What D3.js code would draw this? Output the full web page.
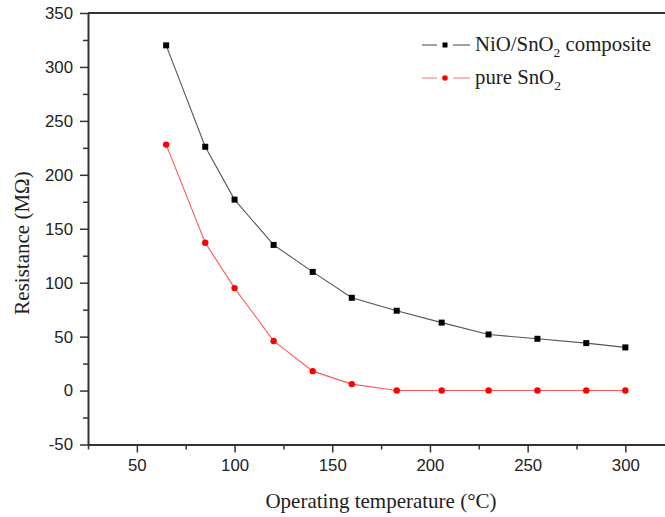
<!DOCTYPE html>
<html>
<head>
<meta charset="utf-8">
<script src="https://cdn.jsdelivr.net/npm/d3@7"></script>
<style>
  body { margin: 0; background: #fff; }
  svg { display: block; }
  .tick text { font-family: "Liberation Sans", Arial, sans-serif; font-size: 16.8px; fill: #222; }
  .title { font-family: "Liberation Serif", "Times New Roman", serif; font-size: 21px; fill: #222; }
  .legend-text { font-family: "Liberation Serif", "Times New Roman", serif; font-size: 20.8px; fill: #222; }
</style>
</head>
<body>
<div id="chart"></div>
<script>
// data
const temperatures = [65, 85, 100, 120, 140, 160, 183, 206, 230, 255, 280, 300];
const nioComposite = [320, 226, 177, 135, 110, 86, 74, 63, 52, 48, 44, 40];
const pureSnO2 = [228, 137, 95, 46, 18, 6, 0, 0, 0, 0, 0, 0];
const xTicks = [50, 100, 150, 200, 250, 300];
const yTicks = [-50, 0, 50, 100, 150, 200, 250, 300, 350];

const width = 665, height = 517;
const plotLeft = 88, plotTop = 13, plotBottom = 444.5;

const svg = d3.select("#chart").append("svg")
  .attr("width", width)
  .attr("height", height);

// plot runs past the right edge of the picture (the figure is cropped)
const x = d3.scaleLinear().domain([25, 325]).range([plotLeft, plotLeft + 300 * 1.954]);
const y = d3.scaleLinear().domain([-50, 350]).range([plotBottom, plotTop]);

const axisColor = "#333";
const fmt = d => String(d); // plain hyphen for negatives, like the original

// minor ticks
svg.append("g")
  .attr("transform", `translate(0,${plotBottom})`)
  .call(d3.axisBottom(x).tickValues(d3.range(25, 326, 25).filter(v => v % 50 !== 0)).tickSize(5).tickFormat(""))
  .call(g => g.select(".domain").remove())
  .call(g => g.selectAll("line").attr("stroke", axisColor).attr("stroke-width", 1.5));
svg.append("g")
  .attr("transform", `translate(${plotLeft},0)`)
  .call(d3.axisLeft(y).tickValues(d3.range(-25, 350, 50)).tickSize(5).tickFormat(""))
  .call(g => g.select(".domain").remove())
  .call(g => g.selectAll("line").attr("stroke", axisColor).attr("stroke-width", 1.5));

// major axes
svg.append("g")
  .attr("transform", `translate(0,${plotBottom})`)
  .call(d3.axisBottom(x).tickValues(xTicks).tickFormat(fmt).tickSize(8).tickSizeOuter(0).tickPadding(7))
  .call(g => g.select(".domain").attr("stroke", axisColor).attr("stroke-width", 2))
  .call(g => g.selectAll("line").attr("stroke", axisColor).attr("stroke-width", 1.5));

svg.append("g")
  .attr("transform", `translate(${plotLeft},0)`)
  .call(d3.axisLeft(y).tickValues(yTicks).tickFormat(fmt).tickSize(8).tickSizeOuter(0).tickPadding(7))
  .call(g => g.select(".domain").attr("stroke", axisColor).attr("stroke-width", 2))
  .call(g => g.selectAll("line").attr("stroke", axisColor).attr("stroke-width", 1.5));

// top frame
svg.append("line")
  .attr("x1", plotLeft).attr("x2", width)
  .attr("y1", plotTop).attr("y2", plotTop)
  .attr("stroke", axisColor).attr("stroke-width", 2);

// lines
const line = d3.line()
  .x(d => x(d[0]))
  .y(d => y(d[1]));

const series = [
  { name: "nio", values: nioComposite, line: "#555", fill: "#000", marker: "square" },
  { name: "pure", values: pureSnO2, line: "#ff5a5a", fill: "#ff0000", marker: "circle" }
];

series.forEach(s => {
  const pts = temperatures.map((t, i) => [t, s.values[i]]);
  svg.append("path")
    .datum(pts)
    .attr("fill", "none")
    .attr("stroke", s.line)
    .attr("stroke-width", 1.1)
    .attr("d", line);
  if (s.marker === "square") {
    svg.selectAll(null).data(pts).join("rect")
      .attr("x", d => x(d[0]) - 3)
      .attr("y", d => y(d[1]) - 3)
      .attr("width", 6).attr("height", 6)
      .attr("fill", s.fill);
  } else {
    svg.selectAll(null).data(pts).join("circle")
      .attr("cx", d => x(d[0]))
      .attr("cy", d => y(d[1]))
      .attr("r", 3.2)
      .attr("fill", s.fill);
  }
});

// axis titles
svg.append("text")
  .attr("class", "title")
  .attr("x", 381).attr("y", 508)
  .attr("text-anchor", "middle")
  .text("Operating temperature (°C)");

svg.append("text")
  .attr("class", "title")
  .attr("transform", "translate(29,243) rotate(-90)")
  .attr("text-anchor", "middle")
  .text("Resistance (MΩ)");

// legend
const legend = svg.append("g");
const legendRows = [
  { y: 45, color: "#555", fill: "#000", marker: "square", label: ["NiO/SnO", "2", " composite"] },
  { y: 78, color: "#ff8080", fill: "#ff0000", marker: "circle", label: ["pure SnO", "2", ""] }
];
legendRows.forEach(r => {
  legend.append("line")
    .attr("x1", 422).attr("x2", 437)
    .attr("y1", r.y).attr("y2", r.y)
    .attr("stroke", r.color).attr("stroke-width", 1.1);
  legend.append("line")
    .attr("x1", 453).attr("x2", 470)
    .attr("y1", r.y).attr("y2", r.y)
    .attr("stroke", r.color).attr("stroke-width", 1.1);
  if (r.marker === "square") {
    legend.append("rect").attr("x", 442.5).attr("y", r.y - 2.5).attr("width", 5).attr("height", 5)
      .attr("fill", r.fill);
  } else {
    legend.append("circle").attr("cx", 445).attr("cy", r.y).attr("r", 2.8).attr("fill", r.fill);
  }
  const t = legend.append("text")
    .attr("class", "legend-text")
    .attr("x", 475).attr("y", r.y + 6);
  t.append("tspan").text(r.label[0]);
  t.append("tspan").attr("dy", 6).attr("font-size", "13.5px").text(r.label[1]);
  t.append("tspan").attr("dy", -6).text(r.label[2]);
});
</script>
</body>
</html>
